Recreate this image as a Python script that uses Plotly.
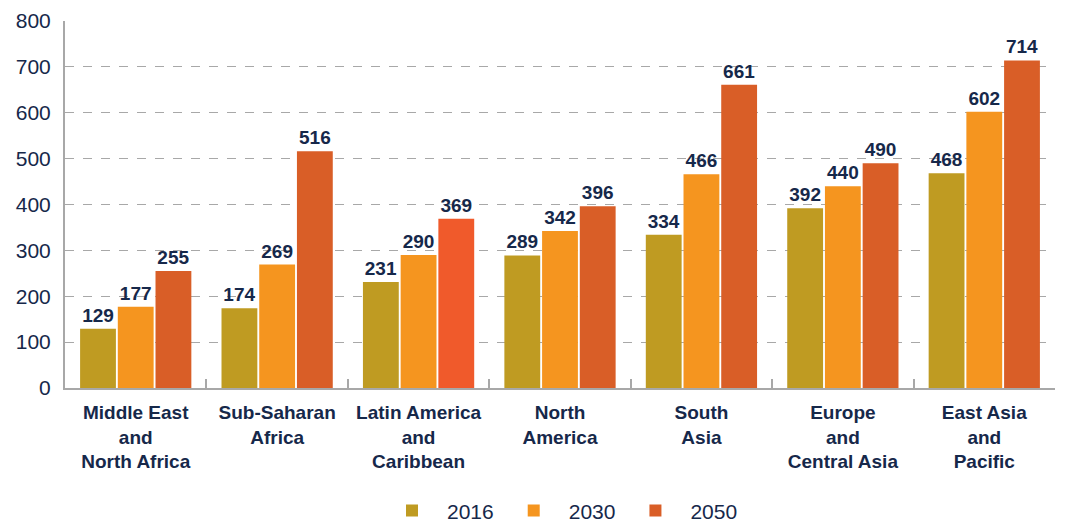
import plotly.graph_objects as go

categories = ["Middle East<br>and<br>North Africa", "Sub-Saharan<br>Africa",
              "Latin America<br>and<br>Caribbean", "North<br>America", "South<br>Asia",
              "Europe<br>and<br>Central Asia", "East Asia<br>and<br>Pacific"]
v2016 = [129, 174, 231, 289, 334, 392, 468]
v2030 = [177, 269, 290, 342, 466, 440, 602]
v2050 = [255, 516, 369, 396, 661, 490, 714]

c2016 = "#BF9B22"
c2030 = "#F5951F"
c2050 = "#D95E27"
c2050_bars = [c2050, c2050, "#F05A2B", c2050, c2050, c2050, c2050]
navy = "#16284A"
font = "Liberation Sans, Arial"

fig = go.Figure()
for name, vals, col in [("2016", v2016, c2016), ("2030", v2030, c2030), ("2050", v2050, c2050_bars)]:
    fig.add_trace(go.Bar(
        x=categories, y=vals, name=name,
        marker=dict(color=col, line=dict(width=0)),
        text=[str(v) for v in vals], textposition="outside",
        textfont=dict(family=font, size=19, color=navy),
        texttemplate="<b>%{text}</b>", cliponaxis=False,
    ))

fig.update_layout(
    width=1067, height=525,
    margin=dict(l=57, r=20, t=13, b=145, autoexpand=False),
    barmode="group", bargap=0.2, bargroupgap=0.05,
    plot_bgcolor="white", paper_bgcolor="white",
    font=dict(family=font, color=navy, size=20),
    showlegend=True,
    legend=dict(orientation="h", x=0.5, xanchor="center", y=-0.335, yanchor="middle",
                font=dict(size=21, color=navy), itemwidth=60, traceorder="normal"),
    uniformtext=dict(mode=False),
)
fig.update_yaxes(range=[0, 800], dtick=100, showgrid=True, gridcolor="#A8A8A8",
                 griddash="dash", gridwidth=1.3, showline=True, linecolor="#A8A8A8",
                 linewidth=2, zeroline=False, ticks="", automargin=False,
                 ticklabelstandoff=8,
                 tickfont=dict(size=21, color=navy))
fig.update_xaxes(showline=True, linecolor="#A8A8A8", linewidth=2, ticks="inside",
                 tickson="boundaries", ticklen=9, tickcolor="#A8A8A8", tickwidth=1.5,
                 automargin=False, ticklabelstandoff=6,
                 tickfont=dict(size=19, color=navy, family=font))
fig.update_xaxes(tickvals=categories, ticktext=["<b>" + c + "</b>" for c in categories])

fig.write_html("out.html")
